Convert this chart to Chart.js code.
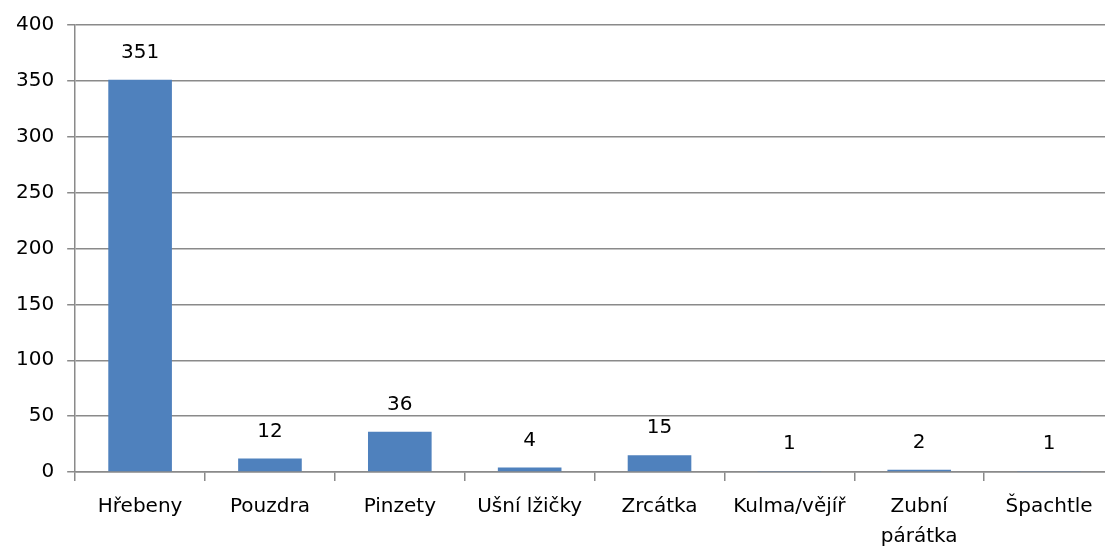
<!DOCTYPE html>
<html>
<head>
<meta charset="utf-8">
<script src="https://cdn.jsdelivr.net/npm/chart.js@4/dist/chart.umd.min.js"></script>
<style>
  html, body { margin: 0; padding: 0; background: #fff; overflow: hidden; }
  #wrap { width: 1122px; height: 552px; position: relative; }
</style>
</head>
<body>
<div id="wrap"><canvas id="c"></canvas></div>
<script>
// Categories of finds and their counts
const categories = ['Hřebeny', 'Pouzdra', 'Pinzety', 'Ušní lžičky', 'Zrcátka', 'Kulma/vějíř', ['Zubní', 'párátka'], 'Špachtle'];
const counts = [351, 12, 36, 4, 15, 1, 2, 1];
const yTicks = [0, 50, 100, 150, 200, 250, 300, 350, 400];

const FONT = 'DejaVu Sans';
const FONT_SIZE = 20;
const axisGray = '#8a8a8a';

// Draws each bar's value just above it
const valueLabels = {
  id: 'valueLabels',
  afterDatasetsDraw(chart) {
    const ctx = chart.ctx;
    const meta = chart.getDatasetMeta(0);
    ctx.save();
    ctx.font = FONT_SIZE + 'px "' + FONT + '"';
    ctx.fillStyle = '#000';
    ctx.textAlign = 'center';
    ctx.textBaseline = 'middle';
    meta.data.forEach((bar, i) => {
      ctx.fillText(String(counts[i]), bar.x, bar.y - 27);
    });
    ctx.restore();
  }
};

new Chart(document.getElementById('c'), {
  type: 'bar',
  data: {
    labels: categories,
    datasets: [{
      data: counts,
      backgroundColor: '#4F81BD',
      borderWidth: 0,
      categoryPercentage: 1,
      barPercentage: 0.49
    }]
  },
  options: {
    responsive: true,
    maintainAspectRatio: false,
    animation: false,
    layout: { padding: { top: 24, right: 8, bottom: -11, left: 3 } },
    plugins: { legend: { display: false }, tooltip: { enabled: false } },
    scales: {
      x: {
        offset: true,
        grid: { display: true, drawOnChartArea: false, offset: true, color: axisGray, tickLength: 9, lineWidth: 1.5 },
        border: { color: axisGray, width: 1.5 },
        ticks: { color: '#000', font: { family: FONT, size: FONT_SIZE, lineHeight: 1.5 }, padding: 11, maxRotation: 0, autoSkip: false }
      },
      y: {
        min: 0,
        max: 400,
        afterBuildTicks(scale) { scale.ticks = yTicks.map(v => ({ value: v })); },
        grid: { color: axisGray, lineWidth: 1.5, tickLength: 8 },
        border: { color: axisGray, width: 1.5 },
        ticks: { color: '#000', font: { family: FONT, size: FONT_SIZE }, padding: 13 }
      }
    }
  },
  plugins: [valueLabels]
});
</script>
</body>
</html>
